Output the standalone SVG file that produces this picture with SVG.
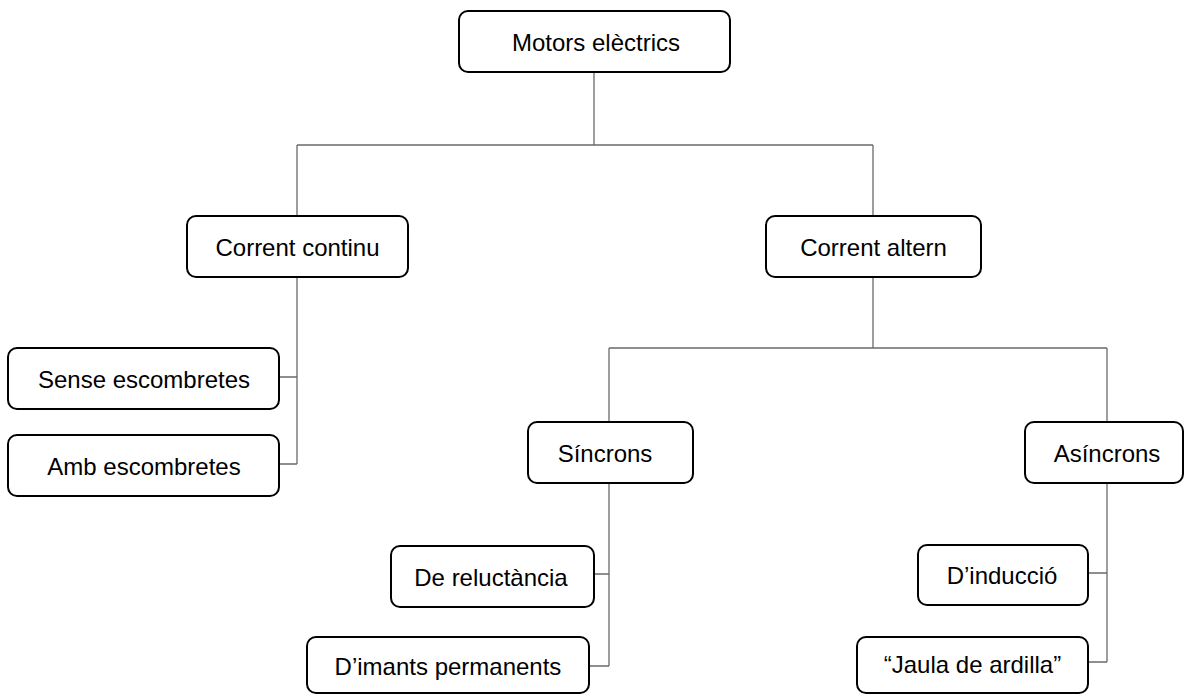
<svg xmlns="http://www.w3.org/2000/svg" width="1185" height="696" viewBox="0 0 1185 696">
  <style>
    .box { fill: #ffffff; stroke: #000000; stroke-width: 2; }
    .lbl { font-family: "Liberation Sans", Arial, sans-serif; font-size: 24px; fill: #000000; text-anchor: middle; dominant-baseline: central; }
    .wire { fill: none; stroke: #6a6a6a; stroke-width: 1.3; }
  </style>
  <rect width="1185" height="696" fill="#ffffff"/>

  <!-- tree connectors -->
  <g id="connectors">
    <path class="wire" d="M594 72 V145 M297 145 H873 M297 145 V216 M873 145 V216"/>
    <path class="wire" d="M297 277 V464 M279 377 H297 M279 464 H297"/>
    <path class="wire" d="M873 277 V348 M609 348 H1107 M609 348 V422 M1107 348 V422"/>
    <path class="wire" d="M609 482 V666 M594 574 H609 M589 666 H609"/>
    <path class="wire" d="M1107 482 V662 M1088 573 H1107 M1088 662 H1107"/>
  </g>

  <g id="motors-electrics">
    <rect class="box" x="459" y="11" width="271" height="61" rx="9"/>
    <text class="lbl" x="596" y="42">Motors elèctrics</text>
  </g>
  <g id="corrent-continu">
    <rect class="box" x="187" y="216" width="221" height="61" rx="9"/>
    <text class="lbl" x="297.5" y="247">Corrent continu</text>
  </g>
  <g id="corrent-altern">
    <rect class="box" x="766" y="216" width="215" height="61" rx="9"/>
    <text class="lbl" x="873.5" y="247">Corrent altern</text>
  </g>
  <g id="sense-escombretes">
    <rect class="box" x="8" y="348" width="271" height="61" rx="9"/>
    <text class="lbl" x="144" y="379">Sense escombretes</text>
  </g>
  <g id="amb-escombretes">
    <rect class="box" x="8" y="435" width="271" height="61" rx="9"/>
    <text class="lbl" x="144" y="466">Amb escombretes</text>
  </g>
  <g id="sincrons">
    <rect class="box" x="528" y="422" width="165" height="61" rx="9"/>
    <text class="lbl" x="605" y="453">Síncrons</text>
  </g>
  <g id="asincrons">
    <rect class="box" x="1025" y="422" width="158" height="61" rx="9"/>
    <text class="lbl" x="1107" y="453">Asíncrons</text>
  </g>
  <g id="de-reluctancia">
    <rect class="box" x="391" y="546" width="203" height="61" rx="9"/>
    <text class="lbl" x="491" y="577">De reluctància</text>
  </g>
  <g id="imants-permanents">
    <rect class="box" x="307" y="637" width="282" height="56" rx="9"/>
    <text class="lbl" x="448" y="666">D’imants permanents</text>
  </g>
  <g id="induccio">
    <rect class="box" x="918" y="545" width="170" height="60" rx="9"/>
    <text class="lbl" x="1002" y="575">D’inducció</text>
  </g>
  <g id="jaula-de-ardilla">
    <rect class="box" x="857" y="637" width="231" height="56" rx="9"/>
    <text class="lbl" x="972.5" y="664">“Jaula de ardilla”</text>
  </g>
</svg>
